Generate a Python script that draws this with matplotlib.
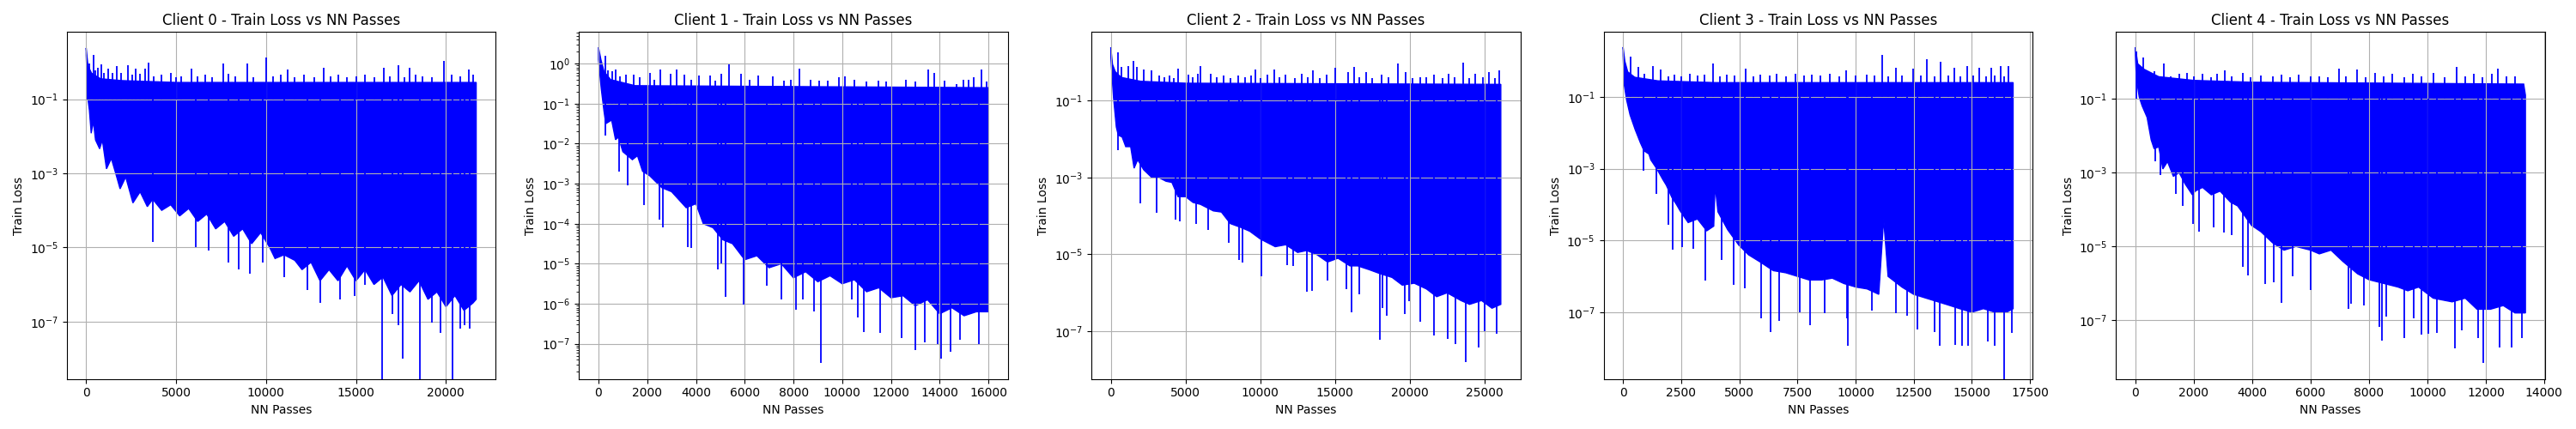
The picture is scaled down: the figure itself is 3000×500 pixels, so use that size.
import numpy as np
import matplotlib
matplotlib.use("Agg")
import matplotlib.pyplot as plt
from matplotlib.ticker import LogLocator

# Train loss vs NN passes for 5 clients. The raw curves are too dense to read point by point,
# so each one is kept as its outline: (NN passes, log10 train loss).
# top / bottom = edges of the solid noisy band, peaks / dips = single spikes above / below it.

c0_top = [(0, 0.38), (100, -0.1), (300, -0.3), (800, -0.45), (2000, -0.5), (5000, -0.55), (21680, -0.55)]
c0_peaks = [(57, -0.11), (190, -0.05), (415, 0.2), (530, -0.22), (660, -0.15), (850, -0.07), (1000, -0.3),
            (1225, -0.17), (1450, -0.3), (1700, -0.11), (1950, -0.3), (2320, -0.08), (2550, -0.35),
            (2770, -0.17), (3000, -0.32), (3260, -0.17), (3490, -0.02), (3750, -0.38), (4200, -0.35),
            (4710, -0.3), (5000, -0.4), (5300, -0.38), (5840, -0.18), (6200, -0.38), (6600, -0.35),
            (7000, -0.4), (7600, -0.05), (7900, -0.32), (8300, -0.38), (8950, -0.05), (9300, -0.4),
            (9990, 0.12), (10400, -0.38), (10800, -0.35), (11180, -0.21), (11600, -0.4), (12100, -0.35),
            (12700, -0.4), (13200, -0.15), (13600, -0.38), (14000, -0.35), (14500, -0.42), (15000, -0.38),
            (15500, -0.35), (16000, -0.4), (16550, -0.15), (16900, -0.38), (17340, -0.09), (17700, -0.42),
            (17960, -0.16), (18300, -0.35), (18700, -0.38), (19200, -0.4), (19890, 0.03), (20300, -0.35),
            (20800, -0.38), (21260, -0.21), (21500, -0.35)]
c0_bottom = [(0, 0.18), (60, -0.6), (100, -1.0), (180, -1.3), (280, -1.92), (400, -1.6), (520, -2.1),
             (750, -2.34), (900, -2.1), (1130, -2.88), (1400, -2.6), (1700, -3.1), (1885, -3.42),
             (2200, -3.1), (2600, -3.8), (3000, -3.5), (3400, -3.9), (3700, -3.7), (4200, -4.0),
             (4700, -3.85), (5200, -4.15), (5700, -3.95), (6200, -4.3), (6700, -4.1), (7200, -4.5),
             (7700, -4.3), (8200, -4.7), (8700, -4.5), (9200, -4.9), (9700, -4.6), (10200, -5.0),
             (10500, -5.3), (11000, -5.2), (11600, -5.35), (12000, -5.6), (12500, -5.4), (13000, -5.9),
             (13500, -5.6), (14000, -5.9), (14500, -5.5), (15000, -5.9), (15500, -5.6), (16000, -6.0),
             (16500, -5.8), (17000, -6.3), (17500, -6.0), (18000, -6.2), (18500, -5.9), (19000, -6.4),
             (19500, -6.2), (20000, -6.6), (20500, -6.3), (21000, -6.7), (21500, -6.5), (21680, -6.4)]
c0_dips = [(3710, -4.85), (6070, -5.0), (6800, -5.08), (7900, -5.4), (8500, -5.6), (9100, -5.7),
           (9800, -5.4), (11000, -5.8), (12300, -6.16), (13000, -6.5), (14100, -6.4), (14900, -6.3),
           (15500, -6.0), (16440, -9.0), (17000, -6.8), (17340, -7.1), (17590, -8.0), (18570, -9.0),
           (19230, -7.02), (19700, -7.3), (20360, -9.0), (20770, -7.2), (21020, -7.1), (21300, -7.2)]

c1_top = [(0, 0.41), (100, 0.1), (230, -0.2), (500, -0.4), (1500, -0.55), (16000, -0.6)]
c1_peaks = [(283, 0.19), (397, -0.16), (580, -0.19), (722, -0.14), (892, -0.32), (1133, -0.28),
            (1459, -0.28), (1700, -0.34), (2125, -0.23), (2300, -0.4), (2521, -0.14), (2975, -0.26),
            (3200, -0.14), (3513, -0.28), (3800, -0.4), (4108, -0.3), (4575, -0.3), (4800, -0.42),
            (5042, -0.25), (5354, -0.02), (5850, -0.25), (6200, -0.4), (6558, -0.3), (7167, -0.32),
            (7600, -0.42), (7900, -0.4), (8230, -0.12), (8700, -0.4), (9037, -0.42), (9400, -0.42),
            (9858, -0.34), (10099, -0.32), (10500, -0.4), (11000, -0.45), (11500, -0.42), (11800, -0.45),
            (12600, -0.4), (13000, -0.45), (13541, -0.14), (13782, -0.23), (14200, -0.42), (14700, -0.5),
            (14986, -0.41), (15200, -0.4), (15411, -0.34), (15722, -0.14), (15907, -0.44)]
c1_bottom = [(0, 0.1), (113, -0.62), (227, -1.19), (300, -1.5), (540, -1.41), (700, -1.9), (820, -1.84),
             (1000, -2.2), (1390, -2.4), (1600, -2.3), (1810, -2.69), (2100, -2.8), (2600, -3.1),
             (3000, -3.2), (3600, -3.6), (4000, -3.5), (4300, -4.0), (4700, -4.1), (5100, -4.4),
             (5500, -4.5), (6000, -4.9), (6500, -4.8), (7000, -5.1), (7500, -5.0), (8000, -5.35),
             (8500, -5.2), (9000, -5.45), (9500, -5.3), (10000, -5.5), (10500, -5.4), (11000, -5.7),
             (11500, -5.6), (12000, -5.85), (12500, -5.8), (13000, -6.05), (13500, -5.9),
             (14000, -6.25), (14500, -6.1), (15000, -6.3), (15500, -6.2), (16000, -6.2)]
c1_dips = [(300, -1.8), (840, -2.69), (1200, -3.05), (1850, -3.53), (2510, -3.9), (2660, -4.1),
           (3650, -4.58), (3800, -4.6), (4890, -5.15), (5050, -5.0), (5230, -5.82), (5960, -6.03),
           (6900, -5.55), (7500, -5.89), (8090, -6.15), (8400, -5.9), (8850, -6.2), (9110, -7.47),
           (10380, -5.9), (10650, -6.34), (10880, -6.7), (11540, -6.72), (12440, -6.86), (12990, -7.15),
           (13400, -6.97), (13900, -7.0), (14060, -7.37), (14450, -7.19), (14840, -6.9), (15620, -7.0)]

c2_top = [(0, 0.385), (115, -0.06), (300, -0.25), (700, -0.4), (2000, -0.5), (5000, -0.55), (26090, -0.58)]
c2_peaks = [(506, 0.25), (690, -0.13), (1150, -0.11), (1518, 0.04), (1750, -0.13), (2210, -0.19),
            (2715, -0.21), (3250, -0.35), (3600, -0.4), (3900, -0.35), (4200, -0.42), (4510, -0.17),
            (5200, -0.33), (5500, -0.4), (5800, -0.3), (6000, -0.11), (6700, -0.3), (7100, -0.4),
            (7550, -0.35), (8000, -0.42), (8500, -0.35), (9000, -0.4), (9400, -0.35), (9680, -0.19),
            (10000, -0.42), (10500, -0.32), (10930, -0.19), (11300, -0.4), (11700, -0.32), (12300, -0.42),
            (12800, -0.3), (13200, -0.4), (13530, -0.21), (14000, -0.42), (14450, -0.32), (15020, -0.16),
            (15850, -0.27), (16260, -0.13), (16600, -0.4), (17100, -0.27), (17500, -0.42), (18100, -0.32),
            (18600, -0.4), (19230, -0.04), (19750, -0.27), (20200, -0.42), (20700, -0.4), (21100, -0.4),
            (21600, -0.32), (22200, -0.42), (22600, -0.3), (23000, -0.4), (23600, -0.01), (24000, -0.42),
            (24400, -0.3), (24900, -0.4), (25300, -0.27), (25700, -0.42), (25970, -0.21)]
c2_bottom = [(0, 0.13), (180, -0.91), (370, -1.69), (500, -1.9), (760, -1.95), (1000, -2.2), (1330, -2.2),
             (1560, -2.76), (1800, -2.54), (2200, -2.8), (2710, -2.99), (3200, -3.0), (3700, -3.1),
             (4090, -3.13), (4500, -3.5), (5010, -3.5), (5500, -3.65), (6000, -3.7), (6860, -3.87),
             (7400, -3.9), (8000, -4.2), (8700, -4.3), (9300, -4.4), (10000, -4.6), (11000, -4.8),
             (11700, -4.75), (12500, -4.95), (13100, -4.9), (13760, -5.0), (14500, -5.2), (15200, -5.1),
             (16000, -5.3), (16520, -5.3), (17300, -5.4), (18000, -5.5), (18820, -5.6), (19500, -5.8),
             (20300, -5.75), (21120, -5.9), (21800, -6.1), (22500, -6.0), (23420, -6.2), (24000, -6.3),
             (24800, -6.2), (25500, -6.4), (26090, -6.3)]
c2_dips = [(500, -2.28), (1980, -3.67), (3080, -3.91), (4320, -4.1), (4620, -4.15), (5700, -4.2),
           (6530, -4.36), (7890, -4.71), (8580, -5.15), (8810, -5.22), (10050, -5.58), (11820, -5.28),
           (12200, -5.3), (13140, -5.96), (13480, -5.95), (14490, -5.69), (15780, -5.91), (16080, -6.5),
           (16630, -6.04), (17990, -7.21), (18150, -6.39), (18470, -6.59), (19690, -6.55), (19940, -6.22),
           (20700, -6.76), (21620, -7.1), (22540, -7.19), (23070, -7.33), (23740, -7.8), (24590, -7.43),
           (24980, -6.99), (25830, -7.06)]

c3_top = [(0, 0.39), (74, 0.0), (200, -0.3), (500, -0.45), (1500, -0.55), (4000, -0.6), (16780, -0.6)]
c3_peaks = [(312, 0.13), (668, -0.17), (900, -0.35), (1292, -0.14), (1634, -0.23), (1950, -0.42),
            (2200, -0.38), (2500, -0.42), (2860, -0.36), (3200, -0.4), (3500, -0.38), (3862, -0.06),
            (4150, -0.42), (4450, -0.38), (4800, -0.4), (5272, -0.21), (5600, -0.42), (5900, -0.38),
            (6300, -0.4), (6600, -0.35), (7000, -0.42), (7400, -0.36), (7800, -0.4), (8100, -0.38),
            (8500, -0.4), (8900, -0.36), (9300, -0.42), (9580, -0.25), (10000, -0.4), (10500, -0.38),
            (10800, -0.4), (11150, 0.17), (11400, -0.42), (11730, -0.19), (12000, -0.4), (12480, -0.21),
            (12800, -0.4), (13070, 0.06), (13400, -0.42), (13660, -0.01), (14000, -0.4), (14260, -0.19),
            (14500, -0.42), (14810, -0.14), (15050, -0.4), (15340, -0.19), (15600, -0.42), (15850, -0.19),
            (16000, -0.4), (16230, -0.13), (16400, -0.42), (16560, -0.14)]
c3_bottom = [(0, 0.16), (45, -0.64), (150, -1.08), (300, -1.5), (520, -1.91), (740, -2.27), (900, -2.5),
             (1110, -2.59), (1190, -2.75), (1450, -3.0), (1710, -3.3), (1860, -3.46), (2100, -3.8),
             (2300, -4.0), (2450, -4.17), (2800, -4.5), (3200, -4.4), (3600, -4.73), (3900, -4.6),
             (3960, -3.46), (4080, -4.2), (4500, -4.7), (4980, -5.13), (5400, -5.4), (5900, -5.6),
             (6460, -5.84), (7000, -5.9), (7500, -6.0), (8000, -6.1), (8540, -6.1), (9000, -6.05),
             (9500, -6.2), (10030, -6.3), (10500, -6.35), (11000, -6.5), (11210, -4.4), (11400, -6.0),
             (12000, -6.3), (12500, -6.5), (13000, -6.6), (13500, -6.7), (14000, -6.8), (14480, -6.9),
             (15000, -7.0), (15500, -6.9), (16000, -7.0), (16500, -7.0), (16780, -6.9)]
c3_dips = [(890, -3.06), (1440, -3.7), (1960, -4.57), (2150, -5.25), (2550, -5.19), (3030, -5.23),
           (3530, -6.12), (4250, -5.54), (4740, -6.24), (5230, -6.32), (5940, -7.17), (6360, -7.54),
           (6700, -7.23), (7590, -7.0), (8050, -7.35), (8670, -7.03), (9650, -7.17), (9670, -7.93),
           (10710, -6.95), (11730, -7.03), (12220, -7.1), (12670, -7.47), (13410, -7.55), (13620, -7.93),
           (14290, -7.9), (14570, -7.93), (14840, -7.93), (15700, -7.81), (15970, -7.93), (16400, -9.5),
           (16710, -7.57)]

c4_top = [(0, 0.4), (80, -0.05), (300, -0.2), (800, -0.4), (2000, -0.5), (4000, -0.55), (13300, -0.6),
          (13360, -0.9)]
c4_peaks = [(30, 0.28), (263, 0.13), (637, -0.26), (981, -0.04), (1200, -0.38), (1500, -0.32), (1780, -0.3),
            (2000, -0.4), (2300, -0.32), (2600, -0.42), (2800, -0.32), (3060, -0.23), (3300, -0.4),
            (3670, -0.3), (3950, -0.42), (4300, -0.37), (4700, -0.4), (5000, -0.35), (5300, -0.42),
            (5600, -0.35), (6000, -0.4), (6300, -0.38), (6600, -0.42), (6970, -0.18), (7200, -0.4),
            (7580, -0.2), (7900, -0.42), (8220, -0.3), (8500, -0.4), (8800, -0.32), (9200, -0.42),
            (9500, -0.32), (9800, -0.4), (10200, -0.3), (10600, -0.42), (10990, -0.13), (11300, -0.4),
            (11600, -0.32), (11900, -0.42), (12200, -0.32), (12420, -0.18), (12700, -0.4), (13000, -0.4)]
c4_bottom = [(0, 0.18), (30, -0.41), (130, -0.95), (230, -1.19), (400, -1.5), (540, -2.11), (640, -2.35),
             (800, -2.3), (940, -2.9), (1100, -2.7), (1300, -3.1), (1500, -3.0), (1700, -3.3), (1950, -3.6),
             (2050, -3.5), (2300, -3.4), (2600, -3.6), (2900, -3.5), (3260, -3.8), (3500, -3.9),
             (3980, -4.43), (4300, -4.6), (4700, -4.9), (5090, -5.1), (5500, -5.0), (6000, -5.1),
             (6300, -5.2), (6700, -5.1), (7100, -5.4), (7610, -5.74), (8000, -5.9), (8500, -6.0),
             (9000, -6.1), (9330, -6.2), (9700, -6.1), (10200, -6.4), (10850, -6.5), (11300, -6.4),
             (11700, -6.7), (12160, -6.7), (12600, -6.6), (13000, -6.8), (13360, -6.8)]
c4_dips = [(680, -2.7), (870, -3.06), (1390, -3.58), (1630, -3.89), (1980, -4.38), (2180, -4.59),
           (2690, -4.49), (3030, -4.63), (3300, -4.7), (3670, -5.55), (3860, -5.78), (4440, -6.01),
           (4730, -5.97), (4990, -6.53), (5380, -5.8), (6010, -6.19), (7310, -6.7), (7390, -6.55),
           (7820, -6.6), (8370, -7.18), (8440, -7.54), (8580, -6.9), (9200, -7.49), (9540, -6.95),
           (9790, -7.39), (10030, -7.36), (10340, -7.34), (10940, -7.77), (11180, -7.26), (11750, -7.49),
           (11930, -8.15), (12470, -7.74), (12880, -7.74), (13230, -7.49)]

tops = [c0_top, c1_top, c2_top, c3_top, c4_top]
peaks = [c0_peaks, c1_peaks, c2_peaks, c3_peaks, c4_peaks]
bottoms = [c0_bottom, c1_bottom, c2_bottom, c3_bottom, c4_bottom]
dips = [c0_dips, c1_dips, c2_dips, c3_dips, c4_dips]
# y range shown on each panel (log10)
y_range = [(-8.55, 0.81), (-7.88, 0.79), (-8.24, 0.78), (-8.86, 0.81), (-8.59, 0.81)]

fig = plt.figure(figsize=(30, 5))
for i in range(5):
    ax = plt.subplot(1, 5, i + 1)
    tx, ty = zip(*tops[i])
    bx, by = zip(*bottoms[i])
    px, py = zip(*peaks[i])
    dx, dy = zip(*dips[i])
    # outline of the band: along the top edge, back along the bottom edge
    xs = list(tx) + list(bx)[::-1]
    ys = 10.0 ** np.array(list(ty) + list(by)[::-1])
    ax.fill(xs, ys, color='blue', linewidth=1)
    ax.vlines(px, 1e-1, 10.0 ** np.array(py), color='blue', linewidth=1.3)
    ax.vlines(dx, 10.0 ** np.array(dy), 1e-1, color='blue', linewidth=1.3)
    ax.set_yscale('log')
    ax.set_ylim(10.0 ** y_range[i][0], 10.0 ** y_range[i][1])
    ax.yaxis.set_major_locator(LogLocator(base=10, numticks=8))
    ax.yaxis.set_minor_locator(LogLocator(base=10, subs='auto', numticks=8))
    ax.set_title(f"Client {i} - Train Loss vs NN Passes")
    ax.set_xlabel("NN Passes")
    ax.set_ylabel("Train Loss")
    ax.grid(True)

plt.tight_layout()
fig.savefig("out.png")
